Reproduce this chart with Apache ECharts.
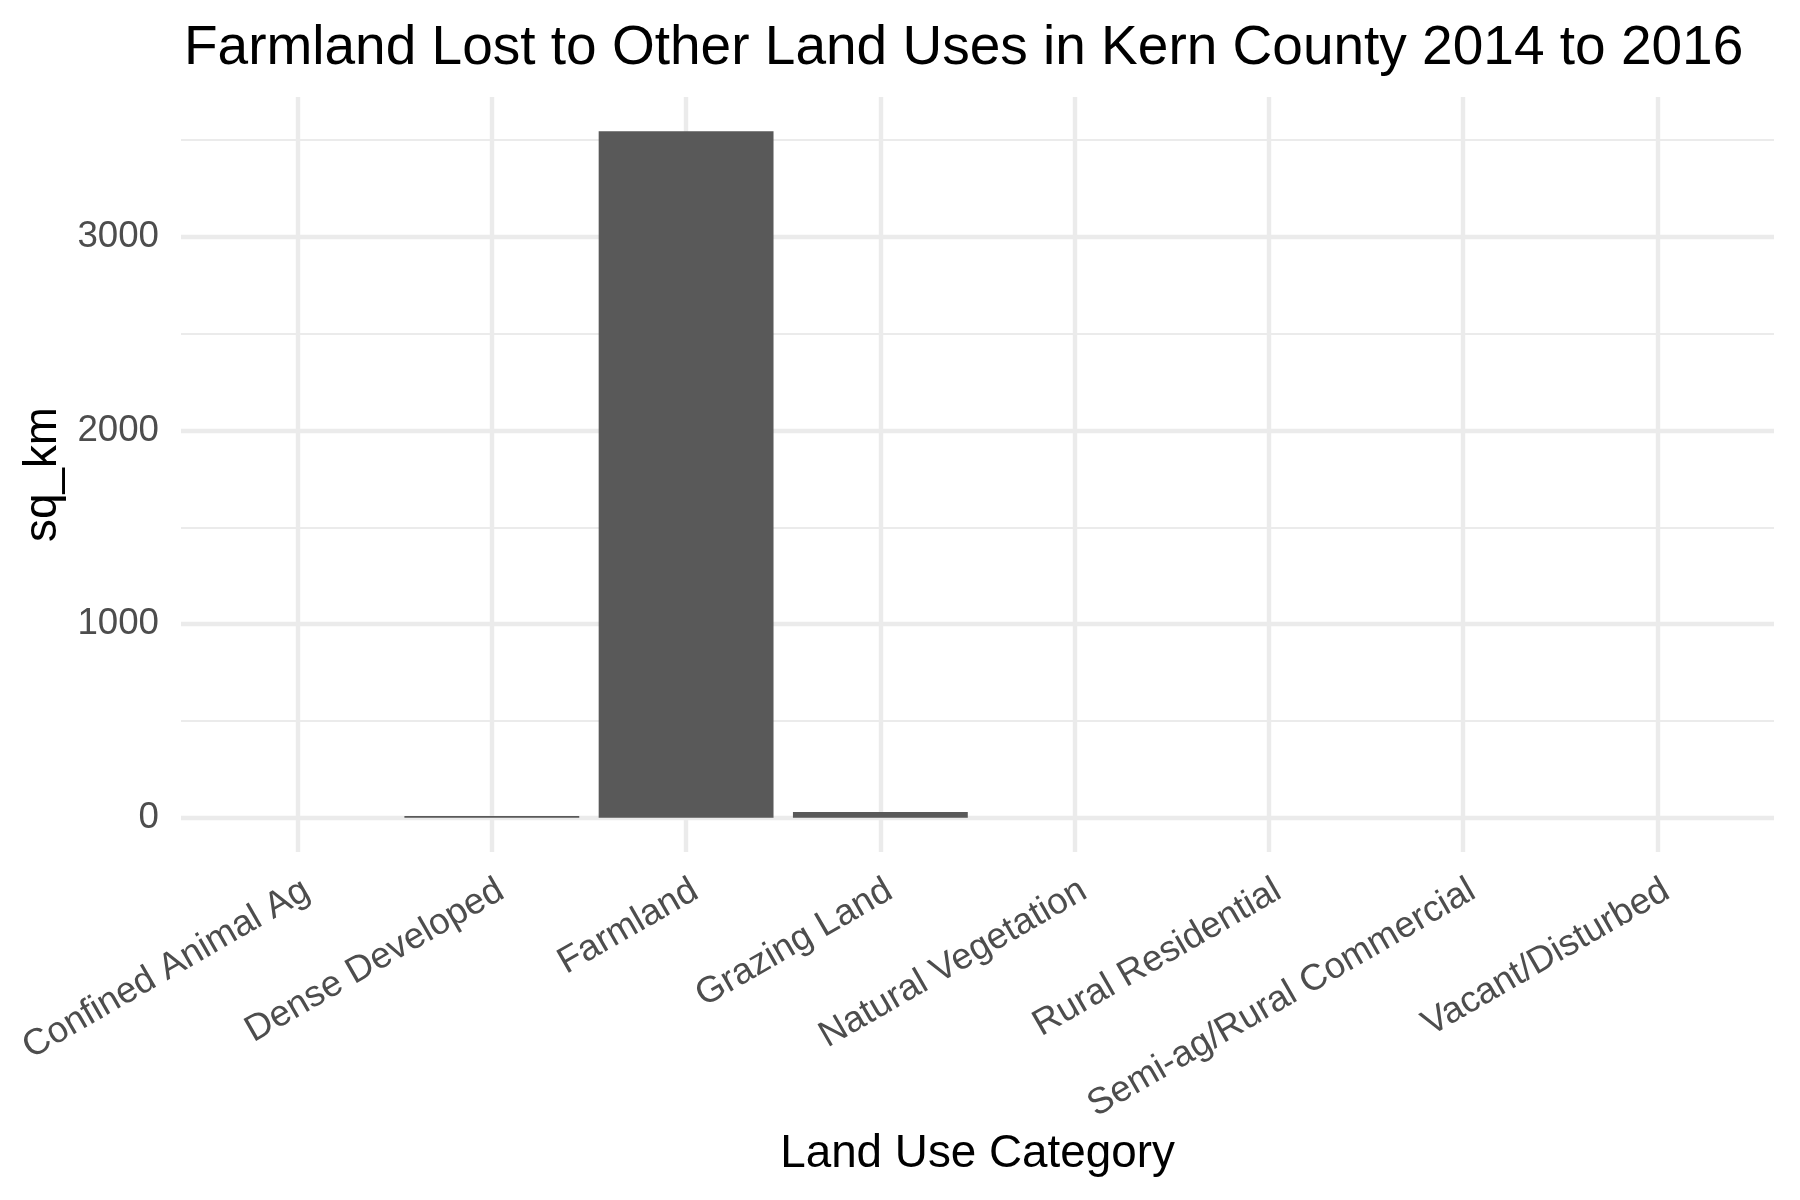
<!DOCTYPE html>
<html>
<head>
<meta charset="utf-8">
<script src="https://cdn.jsdelivr.net/npm/echarts@6/dist/echarts.min.js"></script>
<style>html,body{margin:0;padding:0;background:#fff}#c{width:1800px;height:1200px}</style>
</head>
<body>
<div id="c"></div>
<script>
var categories = ["Confined Animal Ag", "Dense Developed", "Farmland", "Grazing Land",
  "Natural Vegetation", "Rural Residential", "Semi-ag/Rural Commercial", "Vacant/Disturbed"];
var sqKm = [0, 9, 3545, 29, 0, 0, 0, 0];
var yMajorTicks = [0, 1000, 2000, 3000];
var yMinorTicks = [500, 1500, 2500, 3500];
var chartTitle = "Farmland Lost to Other Land Uses in Kern County 2014 to 2016";
var xTitle = "Land Use Category";
var yTitle = "sq_km";

var FONT = "Liberation Sans, Arial, sans-serif";
var maxV = Math.max.apply(null, sqKm);
var yMin = -0.05 * maxV, yMax = 1.05 * maxV;
var xIdx = categories.map(function (c, i) { return i; });

var chart = echarts.init(document.getElementById('c'), null, {renderer: 'canvas'});
chart.setOption({
  animation: false,
  backgroundColor: '#ffffff',
  title: {
    text: chartTitle, left: 184, top: 21, padding: 0,
    textStyle: {fontFamily: FONT, fontSize: 55, fontWeight: 'normal', color: '#000000'}
  },
  grid: {left: 181, right: 26, top: 97, bottom: 348, containLabel: false},
  xAxis: [{
    type: 'value', min: -0.6, max: categories.length - 0.4,
    name: xTitle, nameLocation: 'middle', nameGap: 279,
    nameTextStyle: {fontFamily: FONT, fontSize: 45.8, color: '#000000', verticalAlign: 'top'},
    axisLine: {show: false},
    axisTick: {show: false, customValues: xIdx},
    axisLabel: {
      customValues: xIdx, rotate: 30, margin: 20, align: 'right', verticalAlign: 'top',
      fontFamily: FONT, fontSize: 36.7, color: '#4D4D4D',
      formatter: function (v) { return categories[Math.round(v)]; }
    },
    splitLine: {show: true, lineStyle: {color: '#EBEBEB', width: 4.4}}
  }],
  yAxis: [{
    type: 'value', min: yMin, max: yMax,
    name: yTitle, nameLocation: 'middle', nameGap: 102, nameRotate: 90,
    nameTextStyle: {fontFamily: FONT, fontSize: 45.8, color: '#000000'},
    axisLine: {show: false},
    axisTick: {show: false, customValues: yMajorTicks},
    axisLabel: {customValues: yMajorTicks, margin: 22, fontFamily: FONT, fontSize: 36.7, color: '#4D4D4D',
      formatter: function (v) { return String(Math.round(v)); }},
    splitLine: {show: true, lineStyle: {color: '#EBEBEB', width: 4.4}}
  }, {
    type: 'value', min: yMin, max: yMax, position: 'left',
    axisLine: {show: false},
    axisTick: {show: false, customValues: yMinorTicks},
    axisLabel: {show: false, customValues: yMinorTicks},
    splitLine: {show: true, lineStyle: {color: '#EBEBEB', width: 2.2}}
  }],
  series: [{
    type: 'bar', xAxisIndex: 0, yAxisIndex: 0,
    data: sqKm.map(function (v, i) { return [i, v]; }),
    barWidth: '90%',
    itemStyle: {color: '#595959'}
  }]
});
</script>
</body>
</html>
